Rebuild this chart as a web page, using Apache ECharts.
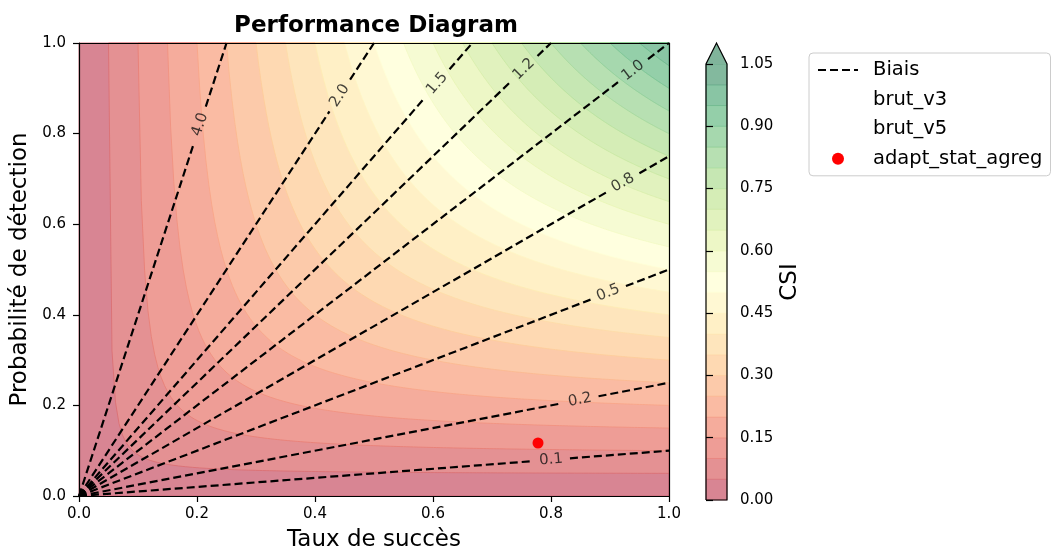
<!DOCTYPE html>
<html><head><meta charset="utf-8">
<script src="https://cdn.jsdelivr.net/npm/echarts@6/dist/echarts.min.js"></script>
<style>html,body{margin:0;padding:0;background:#fff}#c{width:1051px;height:557px}</style>
</head><body><div id="c"></div>
<script>
// ---- data ----
const csiLevels = [0,0.05,0.10,0.15,0.20,0.25,0.30,0.35,0.40,0.45,0.50,0.55,0.60,0.65,0.70,0.75,0.80,0.85,0.90,0.95,1.00,1.05];
const csiTicks = [0,0.15,0.30,0.45,0.60,0.75,0.90,1.05];
const axisTicks = [0,0.2,0.4,0.6,0.8,1.0];
const biasValues = [0.1,0.25,0.5,0.75,1.0,1.25,1.5,2.0,4.0];
const biasLabels = ['0.1','0.2','0.5','0.8','1.0','1.2','1.5','2.0','4.0'];
const biasLabelSR = [0.800,0.849,0.897,0.922,0.939,0.754,0.607,0.442,0.205];
const pointNames = ['adapt_stat_agreg'];
const pointSR = [0.778];
const pointPOD = [0.117];
const emptySeries = ['brut_v3','brut_v5'];

// ---- layout ----
const G = {left:79, top:43, width:590, height:457};
const CB = {left:706, top:64, width:21, height:436};
const FONT = 'DejaVu Sans';

// RdYlGn colormap with alpha 0.5 over white
const RdYlGn = ['#a50026','#d73027','#f46d43','#fdae61','#fee08b','#ffffbf','#d9ef8b','#a6d96a','#66bd63','#1a9850','#006837'];
function hex(h){return [parseInt(h.slice(1,3),16),parseInt(h.slice(3,5),16),parseInt(h.slice(5,7),16)];}
function cmap(t, a){
  t=Math.max(0,Math.min(1,t)); const p=t*10; const i=Math.min(9,Math.floor(p)); const f=p-i;
  const c0=hex(RdYlGn[i]), c1=hex(RdYlGn[i+1]);
  const c=c0.map((v,k)=>v+(c1[k]-v)*f).map(v=>Math.round(255+(v-255)*a));
  return 'rgb('+c.join(',')+')';
}
const vmax = csiLevels[csiLevels.length-1];
function bandColor(i,a){ return cmap((csiLevels[i]+csiLevels[i+1])/2/vmax, a); }

// contour region CSI >= c (in data space)
function regionPoints(c){
  if(c<=0) return [[0,0],[1,0],[1,1],[0,1]];
  const pts=[]; const N=160;
  for(let k=0;k<=N;k++){
    const sr=c+(1-c)*k/N;
    const pod=1/(1+1/c-1/sr);
    pts.push([sr,Math.min(1,pod)]);
  }
  pts.push([1,1]);
  return pts;
}

const bandData = csiLevels.slice(0,-1).map((c,i)=>[Math.min(c,1),Math.min(c,1),i]);

const series = [];
series.push({
  type:'custom', name:'csi', xAxisIndex:0, yAxisIndex:0, z:1, silent:true,
  data: bandData, encode:{x:0,y:1},
  renderItem:(params,api)=>{
    const i=api.value(2); const c=csiLevels[i];
    if(c>=1) return null;
    const pts=regionPoints(c).map(p=>api.coord(p));
    return {type:'polygon', shape:{points:pts}, style:{fill:bandColor(i,0.5), stroke:bandColor(i,0.66), lineWidth:0.8}};
  }
});

// bias lines
biasValues.forEach((b,j)=>{
  const theta=Math.atan(b*G.height/G.width);
  const half=19;
  const dx=half*Math.cos(theta)/G.width;
  const xl=biasLabelSR[j];
  const end = b>1 ? [1/b,1] : [1,b];
  series.push({
    type:'line', name:'Biais', xAxisIndex:0, yAxisIndex:0, z:3, symbol:'none', silent:true,
    connectNulls:false,
    lineStyle:{color:'#000', width:2.2, type:[8,4]},
    itemStyle:{color:'#000'},
    data:[[0,0],[xl-dx,b*(xl-dx)],[xl,'-'],[xl+dx,b*(xl+dx)],end]
  });
});
// bias labels
series.push({
  type:'scatter', name:'biasLabels', xAxisIndex:0, yAxisIndex:0, z:4, symbolSize:0, silent:true,
  data: biasValues.map((b,j)=>({
    value:[biasLabelSR[j], b*biasLabelSR[j]],
    label:{show:true, position:'inside', formatter:biasLabels[j],
      rotate: Math.atan(b*G.height/G.width)*180/Math.PI,
      fontSize:15, color:'#111', fontFamily:FONT}
  }))
});
emptySeries.forEach(n=>series.push({type:'scatter', name:n, data:[], symbolSize:10, itemStyle:{color:'rgba(0,0,0,0)'}}));
series.push({
  type:'scatter', name:pointNames[0], xAxisIndex:0, yAxisIndex:0, z:5, symbol:'circle', symbolSize:11,
  itemStyle:{color:'#ff0000', opacity:1}, data: pointSR.map((s,k)=>[s,pointPOD[k]])
});

// colorbar
series.push({
  type:'custom', name:'cbar', xAxisIndex:2, yAxisIndex:2, z:1, silent:true,
  data: csiLevels.slice(0,-1).map((c,i)=>[0.5,c,i]), encode:{x:0,y:1},
  renderItem:(params,api)=>{
    const i=api.value(2);
    const p0=api.coord([0,csiLevels[i]]), p1=api.coord([1,csiLevels[i+1]]);
    return {type:'rect', shape:{x:p0[0], y:p1[1], width:p1[0]-p0[0], height:p0[1]-p1[1]},
      style:{fill:bandColor(i,0.5), stroke:bandColor(i,0.66), lineWidth:0.6}};
  }
});
const triH = 0.0506;
series.push({
  type:'custom', name:'cbarOutline', xAxisIndex:2, yAxisIndex:2, z:2, silent:true, clip:false,
  data:[[0.5,vmax]], encode:{x:0,y:1},
  renderItem:(params,api)=>{
    const tri=[[0,vmax],[1,vmax],[0.5,vmax+triH]].map(p=>api.coord(p));
    const out=[[0,0],[1,0],[1,vmax],[0.5,vmax+triH],[0,vmax],[0,0]].map(p=>api.coord(p));
    return {type:'group', children:[
      {type:'polygon', shape:{points:tri}, style:{fill:cmap(1,0.5)}},
      {type:'polyline', shape:{points:out}, style:{fill:null, stroke:'#000', lineWidth:1.2}}
    ]};
  }
});

const tickLabelStyle = {fontSize:15, color:'#000', fontFamily:FONT};
const option = {
  animation:false,
  backgroundColor:'#fff',
  textStyle:{fontFamily:FONT},
  title:{text:'Performance Diagram', left:G.left+G.width/2-3, top:10, textAlign:'center',
    textStyle:{fontSize:23, fontWeight:'bold', color:'#000', fontFamily:FONT}},
  legend:{
    orient:'vertical', left:809, top:53,
    data:[{name:'Biais', itemStyle:{opacity:0}}].concat(emptySeries, pointNames.map(n=>({name:n, itemStyle:{color:'#ff0000', opacity:1}}))),
    itemWidth:40, itemHeight:12, itemGap:9.6,
    padding:[7,8,7,8],
    backgroundColor:'rgba(255,255,255,0.8)', borderColor:'#cccccc', borderWidth:1, borderRadius:4,
    textStyle:{fontSize:19.5, color:'#000', fontFamily:FONT, padding:[0,0,0,10]},
    selectedMode:false
  },
  grid:[
    {left:G.left, top:G.top, width:G.width, height:G.height, show:false},
    {left:CB.left, top:CB.top, width:CB.width, height:CB.height, show:false}
  ],
  xAxis:[
    {type:'value', gridIndex:0, min:0, max:1, interval:0.2, z:10,
      name:'Taux de succès', nameLocation:'middle', nameGap:33,
      nameTextStyle:{fontSize:23, color:'#000', fontFamily:FONT},
      axisLine:{show:true, onZero:false, lineStyle:{color:'#000', width:1.2}},
      axisTick:{show:true, length:6, lineStyle:{color:'#000', width:1.2}},
      axisLabel:Object.assign({margin:11, formatter:v=>v.toFixed(1)}, tickLabelStyle),
      splitLine:{show:false}},
    {type:'value', gridIndex:0, min:0, max:1, position:'top', z:10,
      axisLine:{show:true, onZero:false, lineStyle:{color:'#000', width:1.2}},
      axisTick:{show:false}, axisLabel:{show:false}, splitLine:{show:false}},
    {type:'value', gridIndex:1, min:0, max:1, show:false}
  ],
  yAxis:[
    {type:'value', gridIndex:0, min:0, max:1, interval:0.2, z:10,
      name:'Probabilité de détection', nameLocation:'middle', nameGap:46, nameRotate:90,
      nameTextStyle:{fontSize:23, color:'#000', fontFamily:FONT},
      axisLine:{show:true, onZero:false, lineStyle:{color:'#000', width:1.2}},
      axisTick:{show:true, length:6, lineStyle:{color:'#000', width:1.2}},
      axisLabel:Object.assign({margin:13, formatter:v=>v.toFixed(1)}, tickLabelStyle),
      splitLine:{show:false}},
    {type:'value', gridIndex:0, min:0, max:1, position:'right', z:10,
      axisLine:{show:true, onZero:false, lineStyle:{color:'#000', width:1.2}},
      axisTick:{show:false}, axisLabel:{show:false}, splitLine:{show:false}},
    {type:'value', gridIndex:1, min:0, max:vmax, interval:0.15, position:'right', z:10,
      name:'CSI', nameLocation:'middle', nameGap:52, nameRotate:90,
      nameTextStyle:{fontSize:23, color:'#000', fontFamily:FONT},
      axisLine:{show:false},
      axisTick:{show:true, length:7, lineStyle:{color:'#000', width:1.2}},
      axisLabel:Object.assign({margin:13, formatter:v=>v.toFixed(2)}, tickLabelStyle),
      splitLine:{show:false}}
  ],
  series: series
};
const chart = echarts.init(document.getElementById('c'), null, {renderer:'canvas'});
chart.setOption(option);
</script>
</body></html>
